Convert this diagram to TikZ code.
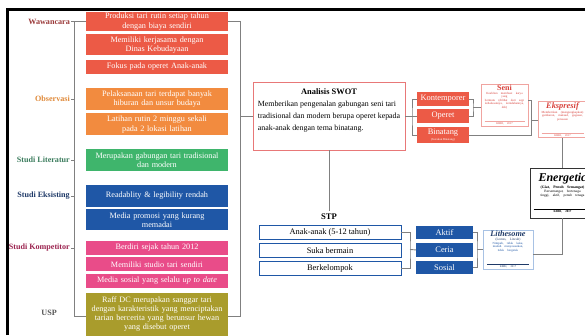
\documentclass[tikz,border=0pt]{standalone}
\usepackage{fontspec}
\setmainfont{Liberation Serif}
\usetikzlibrary{positioning}
\usepackage{xcolor}

\definecolor{labWaw}{HTML}{9B3B3B}
\definecolor{labObs}{HTML}{E08A3A}
\definecolor{labLit}{HTML}{3C7D5E}
\definecolor{labEks}{HTML}{1F3A68}
\definecolor{labKom}{HTML}{9C2450}
\definecolor{labUsp}{HTML}{555555}
\definecolor{redB}{HTML}{EC5A46}
\definecolor{oraB}{HTML}{F28B3F}
\definecolor{grnB}{HTML}{3FB56C}
\definecolor{bluB}{HTML}{1F57A6}
\definecolor{pnkB}{HTML}{E94C89}
\definecolor{olvB}{HTML}{A99C2C}
\definecolor{lineG}{HTML}{808080}
\definecolor{swotR}{HTML}{E87878}
\definecolor{cardR}{HTML}{F0A4A0}
\definecolor{titleR}{HTML}{D8413B}
\definecolor{cardB}{HTML}{A8C2E4}
\definecolor{titleB}{HTML}{1F3A68}

\begin{document}
\begin{tikzpicture}[x=1pt, y=-1pt,
    lbl/.style={font=\fontsize{8.1}{9.5}\selectfont\bfseries, anchor=east, inner sep=1pt},
    fbox/.style={rectangle, minimum width=142pt, text width=136pt, inner xsep=3pt, inner ysep=1pt, align=center, text=white, font=\fontsize{8.2}{9.3}\selectfont},
    swotbox/.style={rectangle, draw=swotR, thick, fill=white, minimum width=152pt, minimum height=68pt},
    stpbox/.style={rectangle, draw=bluB, thick, fill=white, minimum width=142pt, minimum height=14pt, inner sep=0pt, font=\fontsize{8.4}{9}\selectfont},
    tagbox/.style={rectangle, text=white, inner sep=0pt, align=center, font=\fontsize{8.4}{9}\selectfont},
    card/.style={rectangle, thick, fill=white, inner xsep=1.5pt, inner ysep=1pt, align=center},
    conn/.style={draw=lineG, line width=0.9pt}
]
\useasboundingbox (0,0) rectangle (585,335);
\clip (0,0) rectangle (585,335);
\fill[white] (0,0) rectangle (585,335);

% frame of the page
\draw[line width=3pt] (7,335) -- (7,9) -- (585,9);

% left column: sources
\node[lbl, text=labWaw] (lWaw) at (71,21.5) {Wawancara};
\node[lbl, text=labObs] (lObs) at (71,99) {Observasi};
\node[lbl, text=labLit] (lLit) at (71,160) {Studi Literatur};
\node[lbl, text=labEks] (lEks) at (71,196) {Studi Eksisting};
\node[lbl, text=labKom] (lKom) at (71,248) {Studi Kompetitor};
\node[lbl, text=labUsp] (lUsp) at (58,313) {USP};

% findings
\node[fbox, fill=redB, minimum height=19pt] (red1) at (157,21.5) {Produksi tari rutin setiap tahun\\dengan biaya sendiri};
\node[fbox, fill=redB, minimum height=21pt, below=3pt of red1] (red2) {Memiliki kerjasama dengan\\Dinas Kebudayaan};
\node[fbox, fill=redB, minimum height=14pt, below=4pt of red2] (red3) {Fokus pada operet Anak-anak};
\node[fbox, fill=oraB, minimum height=22pt] (ora1) at (157,99) {Pelaksanaan tari terdapat banyak\\hiburan dan unsur budaya};
\node[fbox, fill=oraB, minimum height=22pt, below=3pt of ora1] (ora2) {Latihan rutin 2 minggu sekali\\pada 2 lokasi latihan};
\node[fbox, fill=grnB, minimum height=22pt] (grn1) at (157,160) {Merupakan gabungan tari tradisional\\dan modern};
\node[fbox, fill=bluB, minimum height=22pt] (blu1) at (157,196) {Readablity \& legibility rendah};
\node[fbox, fill=bluB, minimum height=21pt, below=2pt of blu1] (blu2) {Media promosi yang kurang\\memadai};
\node[fbox, fill=pnkB, minimum height=14pt] (pnk1) at (157,248) {Berdiri sejak tahun 2012};
\node[fbox, fill=pnkB, minimum height=14pt, below=2pt of pnk1] (pnk2) {Memiliki studio tari sendiri};
\node[fbox, fill=pnkB, minimum height=14pt, below=2pt of pnk2] (pnk3) {Media sosial yang selalu \textit{up to date}};
\node[fbox, fill=olvB, minimum height=43pt] (usp) at (157,314) {Raff DC merupakan sanggar tari\\dengan karakteristik yang menciptakan\\tarian bercerita yang berunsur hewan\\yang disebut operet};

% brackets
\coordinate (lTop) at (74,21.5);
\coordinate (lBot) at (74,316);
\coordinate (rTop) at (240,21.5);
\coordinate (rBot) at (240,316);
\draw[conn] (lWaw.east) -- (red1.west);
\draw[conn] (lTop) -- (lBot) -- (lBot -| usp.west);
\foreach \n in {lObs,lLit,lEks,lKom}
    \draw[conn] (\n.east) -- (\n.east -| lTop);
\draw[conn] (red1.east) -- (rTop) -- (rBot) -- (rBot -| usp.east);

% SWOT
\node[swotbox] (swot) at (329,116) {};
\node[font=\fontsize{8.4}{9}\selectfont\bfseries] (swotT) at ([yshift=-10pt]swot.north) {Analisis SWOT};
\node[align=left, inner sep=0pt, below=3pt of swotT, font=\fontsize{7.9}{12}\selectfont] (swotB) {Memberikan pengenalan gabungan seni tari\\tradisional dan modern berupa operet kepada\\anak-anak dengan tema binatang.};
\draw[conn] (rTop |- swot.west) -- (swot.west);

\node[tagbox, fill=redB, minimum width=52pt, minimum height=14pt] (kont) at (443,99) {Kontemporer};
\node[tagbox, fill=redB, minimum width=52pt, minimum height=14pt] (oper) at (443,116) {Operet};
\node[tagbox, fill=redB, minimum width=52pt, minimum height=16pt] (binat) at (443,135) {Binatang\\[-2.5pt]{\fontsize{3}{3.5}\selectfont (Gerakan Binatang)}};
\draw[conn] (swot.east) -- (oper.west);
\coordinate (jR) at (412,116);
\draw[conn] (kont.west) -| (jR) |- (binat.west);

\node[card, draw=cardR, text width=44pt, minimum height=36pt] (seni) at (504.5,105) {%
  \centering
  {\fontsize{8}{9}\selectfont\bfseries\color{titleR}Seni\par}
  {\fontsize{3.1}{3.6}\selectfont\color{titleR}Keahlian membuat karya yang\\bermutu (dilihat dari segi\\kehalusannya, keindahannya,\\dsb)\par}
  \vspace{0.8pt}{\color{cardR}\rule{40pt}{0.4pt}}\par
  {\fontsize{2.8}{3.3}\selectfont\color{titleR}KBBI, 2017\par}};
\coordinate (jK) at (473,107);
\draw[conn] (kont.east) -| (jK) |- (oper.east);
\draw[conn] (jK) -- (jK -| seni.west);

\node[card, draw=cardR, text width=45pt, minimum height=33pt] (eksp) at (562.5,119.5) {%
  \centering
  {\fontsize{8.4}{9}\selectfont\bfseries\itshape\color{titleR}Ekspresif\par}
  {\fontsize{3.1}{3.6}\selectfont\color{titleR}Memberikan (mengungkapkan)\\gambaran, maksud, gagasan,\\perasaan\par}
  \vspace{0.8pt}{\color{cardR}\rule{42pt}{0.4pt}}\par
  {\fontsize{2.8}{3.3}\selectfont\color{titleR}KBBI, 2017\par}};
\coordinate (jE) at (531,120);
\draw[conn] ([yshift=5pt]seni.east) -| (jE) |- (binat.east);
\draw[conn] (jE) -- (jE -| eksp.west);

\node[card, draw=black!80, text width=61pt, minimum height=50pt] (ener) at (562.5,193) {%
  \centering
  {\fontsize{12}{13}\selectfont\bfseries\itshape Energetic\par}
  \vspace{1pt}{\fontsize{3.8}{4.4}\selectfont\bfseries (Giat, Penuh Semangat)\par}
  {\fontsize{3.5}{4.1}\selectfont Bersemangat, bertenaga\\tinggi, aktif, penuh tenaga\par}
  \vspace{0.8pt}{\rule{58pt}{0.4pt}}\par
  {\fontsize{3}{3.6}\selectfont\bfseries KBBI, 2017\par}};
\draw[conn] (eksp.south) -- (ener.north);

% STP
\node[font=\fontsize{8.6}{9}\selectfont\bfseries] (lStp) at (329,217) {STP};
\draw[conn] (swot.south) -- (lStp.north);
\node[stpbox] (stp1) at (330,232.5) {Anak-anak (5-12 tahun)};
\node[stpbox, below=3pt of stp1] (stp2) {Suka bermain};
\node[stpbox, below=3pt of stp2] (stp3) {Berkelompok};

\node[tagbox, fill=bluB, minimum width=57pt, minimum height=13.5pt] (aktif) at (444.5,232.5) {Aktif};
\node[tagbox, fill=bluB, minimum width=57pt, minimum height=13.5pt, below=3.5pt of aktif] (ceria) {Ceria};
\node[tagbox, fill=bluB, minimum width=57pt, minimum height=13.5pt, below=3.5pt of ceria] (sosial) {Sosial};
\coordinate (jS) at (410,249.5);
\draw[conn] (stp1.east) -| (jS) |- (stp3.east);
\draw[conn] (jS) -- (ceria.west);

\node[card, draw=cardB, text width=47pt, minimum height=39pt] (lithe) at (508,249.5) {%
  \centering
  {\fontsize{8.2}{9}\selectfont\bfseries\itshape\color{titleB}Lithesome\par}
  {\fontsize{3.4}{4}\selectfont\color{titleB}(Lemes, Lincah)\par}
  {\fontsize{3.1}{3.6}\selectfont\color{bluB}Nimpuh, tidak kaku,\\mudah menyesuaikan,\\tidak bergerak\par}
  \vspace{0.8pt}{\color{titleB}\rule{42pt}{0.4pt}}\par
  {\fontsize{2.8}{3.3}\selectfont\color{titleB}KBBI, 2017\par}};
\coordinate (jB) at (477,249.5);
\draw[conn] (aktif.east) -| (jB) |- (sosial.east);
\draw[conn] (jB) -- (lithe.west);
\draw[conn] ([yshift=-5pt]lithe.east) -| (ener.south);

\end{tikzpicture}
\end{document}
